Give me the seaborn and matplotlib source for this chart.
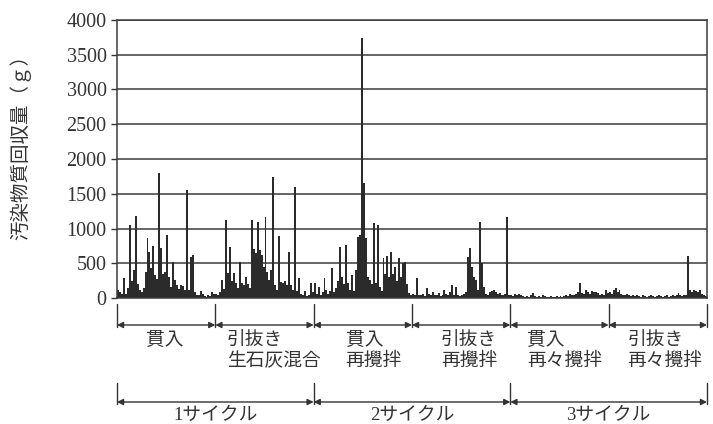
import numpy as np
import pandas as pd
import matplotlib
matplotlib.use("Agg")
import matplotlib.pyplot as plt
import matplotlib.transforms as mtransforms
from matplotlib.lines import Line2D
import seaborn as sns

sns.set_theme(style="white")
plt.rcParams['font.family'] = ['Liberation Serif', 'Noto Sans CJK JP', 'DejaVu Sans']

# recovered pollutant per sampling step (g), one array per work stage
pen1 = [120, 80, 60, 290, 60, 140, 1050, 250, 400, 1180,
        200, 120, 80, 150, 380, 870, 660, 430, 750, 330,
        280, 1800, 720, 350, 380, 900, 300, 160, 520, 260,
        180, 130, 190, 170, 110, 1550, 110, 590, 620, 90,
        50, 40, 100, 60, 30, 20, 40, 30, 80, 60]
pull1 = [60, 40, 90, 260, 130, 1120, 360, 730, 250, 360,
         220, 150, 520, 220, 180, 300, 200, 150, 1120, 700,
         650, 1100, 690, 620, 450, 1160, 380, 260, 400, 1740,
         190, 120, 890, 230, 220, 240, 180, 660, 180, 120,
         1600, 100, 290, 60, 40, 100, 30, 40, 220, 80]
pen2 = [220, 60, 160, 40, 80, 290, 120, 60, 100, 430,
        80, 150, 250, 730, 300, 200, 760, 220, 120, 330,
        100, 400, 880, 900, 3740, 1650, 860, 300, 260, 200,
        1080, 220, 1050, 160, 100, 580, 350, 600, 300, 660,
        350, 450, 250, 580, 300, 500, 520, 200, 70, 50]
pull2 = [60, 40, 290, 50, 40, 60, 30, 140, 60, 40,
         80, 50, 40, 70, 30, 50, 115, 60, 40, 80,
         190, 50, 160, 40, 30, 40, 60, 80, 590, 720,
         450, 300, 260, 120, 1100, 500, 160, 60, 40, 80,
         100, 120, 90, 60, 70, 50, 40, 60, 1170, 40]
pen3 = [40, 30, 60, 50, 60, 40, 30, 20, 30, 20,
        40, 70, 30, 20, 30, 20, 40, 30, 20, 20,
        30, 20, 20, 30, 20, 30, 20, 30, 40, 30,
        60, 40, 50, 60, 80, 210, 70, 60, 115, 90,
        60, 100, 80, 90, 70, 40, 60, 50, 115, 70]
pull3 = [90, 60, 110, 140, 80, 110, 60, 50, 40, 60,
         40, 30, 40, 30, 50, 30, 20, 40, 30, 20,
         30, 40, 30, 20, 30, 40, 30, 20, 30, 40,
         20, 30, 40, 30, 50, 70, 40, 30, 40, 50,
         600, 110, 90, 120, 100, 80, 110, 60, 40, 30]

stage_labels = ["貫入", "引抜き\n生石灰混合", "貫入\n再攪拌",
                "引抜き\n再攪拌", "貫入\n再々攪拌", "引抜き\n再々攪拌"]
cycle_labels = ["1サイクル", "2サイクル", "3サイクル"]
y_ticks = [0, 500, 1000, 1500, 2000, 2500, 3000, 3500, 4000]

stages = [pen1, pull1, pen2, pull2, pen3, pull3]
values = np.concatenate(stages)
df = pd.DataFrame({"step": np.arange(len(values)), "value": values})

fig = plt.figure(figsize=(7.13, 4.24), dpi=100)
ax = fig.add_axes([117 / 713, 1 - 298 / 424, 590 / 713, 278 / 424])

ink = "#333333"
sns.barplot(data=df, x="step", y="value", color="#2b2b2b", saturation=1,
            width=1.0, linewidth=0, ax=ax)
for p in ax.patches:
    p.set_antialiased(False)

ax.set_xlim(-0.5, len(values) - 0.5)
ax.set_ylim(0, 4000)
ax.set_yticks(y_ticks)
ax.set_xticks([])
ax.set_xlabel("")
ax.set_ylabel("汚染物質回収量（ｇ）", fontsize=14, color=ink)
ax.yaxis.set_label_coords(-0.145, 0.56)
ax.tick_params(axis="y", labelsize=14.5, colors=ink, length=4,
               direction="out", left=True, width=1)
ax.yaxis.grid(True, color="#3c3c3c", linewidth=1.1)
ax.set_axisbelow(True)
for sp in ax.spines.values():
    sp.set_color("#3c3c3c")
    sp.set_linewidth(1.1)

# stage / cycle arrows underneath the axis
trans = mtransforms.blended_transform_factory(ax.transData, fig.transFigure)
def fy(px):
    return 1 - px / 424

lens = [len(s) for s in stages]
bounds = np.concatenate([[0], np.cumsum(lens)]) - 0.5

def bracket_row(edges, y_top, y_arrow):
    for b in edges:
        fig.add_artist(Line2D([b, b], [fy(y_top), fy(y_arrow + 2)],
                              transform=trans, color=ink, lw=1))
    for a, b in zip(edges[:-1], edges[1:]):
        ax.annotate("", xy=(b, fy(y_arrow)), xytext=(a, fy(y_arrow)),
                    xycoords=trans, textcoords=trans, annotation_clip=False,
                    arrowprops=dict(arrowstyle="<|-|>", color=ink, lw=1,
                                    shrinkA=0, shrinkB=0, mutation_scale=9))

bracket_row(bounds, 304, 325)
bracket_row(bounds[::2], 383, 402)

stage_x = [0.081, 0.266, 0.435, 0.597, 0.759, 0.929]
pos = ax.get_position()
for x, lab in zip(stage_x, stage_labels):
    fig.text(pos.x0 + x * pos.width, fy(332), lab,
             ha="center", va="top", multialignment="left", fontsize=13.5,
             color=ink, linespacing=1.25)

for i, lab in enumerate(cycle_labels):
    cx = (bounds[2 * i] + bounds[2 * i + 2]) / 2
    fig.text(cx, fy(415), lab, transform=trans, ha="center", va="center",
             fontsize=13.5, color=ink)

fig.savefig("out.png", dpi=100, facecolor="white")
